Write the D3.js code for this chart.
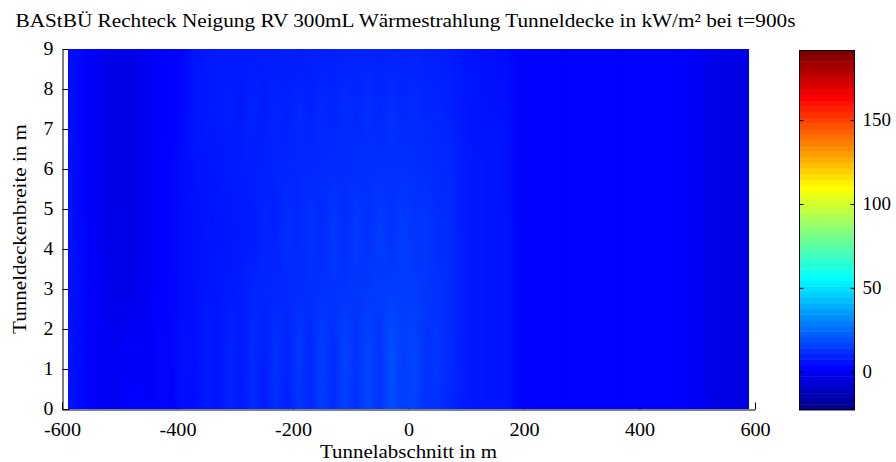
<!DOCTYPE html>
<html>
<head>
<meta charset="utf-8">
<script src="https://cdn.jsdelivr.net/npm/d3@7"></script>
<style>
  body { margin: 0; background: #fff; }
  svg { display: block; }
  text { font-family: "Liberation Serif", "Times New Roman", serif; fill: #000; }
</style>
</head>
<body>
<svg id="chart" width="896" height="462"></svg>
<script>
// ---- labels and ticks ----
const titleText = "BAStBÜ Rechteck Neigung RV 300mL Wärmestrahlung Tunneldecke in kW/m² bei t=900s";
const xLabel = "Tunnelabschnitt in m";
const yLabel = "Tunneldeckenbreite in m";
const xTicks = [-600, -400, -200, 0, 200, 400, 600];
const yTicks = [0, 1, 2, 3, 4, 5, 6, 7, 8, 9];
const barTicks = [0, 50, 100, 150];
const colorLimits = [-22.8, 191.8];

// ---- measurement grid: tunnel section (m) and ceiling width (m) ----
const gridX = [-590, -570, -550, -530, -510, -490, -470, -450, -430, -410,
               -390, -370, -350, -330, -310, -290, -270, -250, -230, -210,
               -190, -170, -150, -130, -110, -90, -70, -50, -30, -10,
               10, 30, 50, 70, 90, 110, 130, 150, 170, 190,
               210, 230, 250, 270, 290, 310, 330, 350, 370, 390,
               410, 430, 450, 470, 490, 510, 530, 550, 570, 590];
const gridY = [0, 1.5, 3, 4.5, 6, 7.5, 9];

// radiation in kW/m² along each ceiling line (one array per width position)
const radY0 = [6, 4, 2.5, 0.5, 0, 1.5, 3, 1.5, 3.5, 2.5,
               5.5, 4.5, 8, 6, 9.5, 7, 11, 8, 12, 9,
               13, 10, 15, 11, 16, 12, 17, 13, 18.5, 15,
               16.5, 12, 13, 10.5, 8.5, 7, 7, 6.5, 6.5, 2.8,
               2.5, 2.6, 2.5, 2.4, 2.5, 2.6, 2.5, 2.5, 2.4, 2.5,
               2.5, 2.6, 2.5, 2.2, 1.2, -0.5, -2, -2.5, -3, -3];
const radY15 = [6.5, 4.5, 2.5, 0.5, -0.5, 1, 2, 1, 3.5, 3,
                5.5, 5, 8, 6, 9.5, 7.5, 11.5, 8.5, 12.5, 9.5,
                14, 10.5, 15.5, 11.5, 16.5, 12.5, 17, 13, 19, 15,
                17, 12.5, 13.5, 11, 9, 7, 7, 6.5, 6.5, 2.8,
                2.5, 2.6, 2.5, 2.4, 2.5, 2.6, 2.5, 2.5, 2.4, 2.5,
                2.5, 2.6, 2.5, 2.2, 1.2, -0.5, -2, -2.5, -3, -3];
const radY3 = [6, 4.5, 2, 0, -1.5, -2, -1.5, 0.5, 2.5, 3,
               4.5, 5.5, 6.5, 7, 7.5, 8, 9.5, 10, 10.5, 11,
               11.5, 12, 12.5, 13, 13, 13.5, 14, 14.5, 15, 15,
               14.5, 13.5, 12.5, 11.5, 9, 7, 7, 6.5, 6.5, 2.8,
               2.5, 2.6, 2.5, 2.4, 2.5, 2.6, 2.5, 2.5, 2.4, 2.5,
               2.5, 2.6, 2.5, 2.2, 1.2, -0.5, -2, -2.5, -3, -2.8];
const radY45 = [5.5, 4, 1.5, -1, -2, -2.5, -2, 0, 2, 3,
                4.5, 5.5, 6, 6.5, 7, 7.5, 7.5, 10, 9, 12,
                10, 13, 11, 14, 11.5, 14.5, 12, 15, 12.5, 15,
                13, 14, 11.5, 11.5, 8.5, 7, 7, 6.5, 6.5, 2.8,
                2.5, 2.6, 2.5, 2.4, 2.5, 2.6, 2.5, 2.5, 2.4, 2.5,
                2.5, 2.6, 2.5, 2.2, 1.2, -0.5, -2, -2.5, -3, -2.8];
const radY6 = [5.5, 4, 1, -1.5, -2.5, -3, -2.5, -0.5, 2, 3,
               4.5, 6, 6.5, 7, 7.5, 8, 8.5, 9, 9.5, 10,
               10.5, 11, 11, 11.5, 11.5, 12, 12, 12.5, 12.5, 12.5,
               12, 11.5, 11, 10.5, 8.5, 7, 7, 6.5, 6, 2.8,
               2.5, 2.6, 2.5, 2.4, 2.5, 2.6, 2.5, 2.5, 2.4, 2.5,
               2.5, 2.6, 2.5, 2.2, 1.2, -0.5, -2, -2.8, -3, -2.8];
const radY75 = [5, 4, 1, -1.5, -2.5, -3, -2.5, -0.5, 2, 2.5,
                4, 6.5, 7.5, 7.5, 8.5, 7.5, 9.5, 8, 10, 8.5,
                10.5, 9, 11, 9.5, 11.5, 10, 12, 10, 12, 10.5,
                11.5, 10, 10, 9, 7.5, 6.5, 6, 6, 5.5, 2.8,
                2.5, 2.6, 2.5, 2.4, 2.5, 2.6, 2.5, 2.5, 2.4, 2.5,
                2.5, 2.6, 2.5, 2.2, 1.2, -0.5, -2, -2.8, -3, -2.8];
const radY9 = [5, 4, 1, -1.5, -2.5, -3, -2.5, -0.5, 2, 2.5,
               3.5, 6.5, 7, 7.5, 7.5, 8, 7.5, 8, 8, 8.5,
               8, 8.5, 8.5, 9, 9, 9.5, 9.5, 9, 9.5, 9,
               9.5, 9, 8.5, 8, 7, 6, 5.5, 5, 4.5, 2.8,
               2.5, 2.6, 2.5, 2.4, 2.5, 2.6, 2.5, 2.5, 2.4, 2.5,
               2.5, 2.6, 2.5, 2.2, 1.2, -0.5, -2, -2.8, -3, -2.8];

const radRows = [radY0, radY15, radY3, radY45, radY6, radY75, radY9];

// ---- jet colormap with 64 entries ----
function jet64() {
  const m = 64, n = 16;
  const u = [];
  for (let i = 1; i <= n; i++) u.push(i / n);
  for (let i = 0; i < n - 1; i++) u.push(1);
  for (let i = n; i >= 1; i--) u.push(i / n);
  const r = new Array(m).fill(0), g = new Array(m).fill(0), b = new Array(m).fill(0);
  for (let k = 0; k < u.length; k++) {
    const gi = n / 2 + k + 1;      // 1-based row index
    const ri = gi + n, bi = gi - n;
    if (gi >= 1 && gi <= m) g[gi - 1] = u[k];
    if (ri >= 1 && ri <= m) r[ri - 1] = u[k];
    if (bi >= 1 && bi <= m) b[bi - 1] = u[k];
  }
  return d3.range(m).map(i => d3.rgb(Math.round(r[i] * 255), Math.round(g[i] * 255), Math.round(b[i] * 255)));
}
const jetColors = jet64();
const binWidth = (colorLimits[1] - colorLimits[0]) / jetColors.length;
// smooth colouring for the field (interpolated between colormap entries)
const fieldColor = d3.scaleLinear()
  .domain(jetColors.map((c, i) => colorLimits[0] + (i + 0.5) * binWidth))
  .range(jetColors.map(c => c.formatHex()))
  .clamp(true);

// ---- layout ----
const svg = d3.select("#chart");
const x = d3.scaleLinear().domain([-600, 600]).range([62, 755]);
const y = d3.scaleLinear().domain([0, 9]).range([409, 49]);

function widen(sel, k) {
  sel.each(function () {
    const len = this.getComputedTextLength();
    d3.select(this).attr("textLength", len * k).attr("lengthAdjust", "spacingAndGlyphs");
  });
}

// axes go underneath the field image
const gx = svg.append("g")
  .attr("transform", "translate(0,409.5)")
  .call(d3.axisBottom(x).tickValues(xTicks).tickSizeInner(-7).tickSizeOuter(0).tickPadding(14));
const gy = svg.append("g")
  .attr("transform", "translate(62.5,0)")
  .call(d3.axisLeft(y).tickValues(yTicks).tickSizeInner(-7).tickSizeOuter(0).tickPadding(9));
[gx, gy].forEach(g => {
  g.selectAll("path,line").attr("stroke", "#000").attr("stroke-width", 1);
  g.selectAll("text").attr("font-size", 18).attr("font-family", "Liberation Serif");
});
gx.selectAll("text").text(d => d < 0 ? "-" + Math.abs(d) : d);
widen(gx.selectAll("text"), 1.12);
widen(gy.selectAll("text"), 1.1);

// ---- interpolated field rendered pixel by pixel ----
function sampleAt(xv, yv) {
  let i = d3.bisectRight(gridX, xv) - 1;
  i = Math.max(0, Math.min(gridX.length - 2, i));
  let j = d3.bisectRight(gridY, yv) - 1;
  j = Math.max(0, Math.min(gridY.length - 2, j));
  const tx = Math.max(0, Math.min(1, (xv - gridX[i]) / (gridX[i + 1] - gridX[i])));
  const ty = Math.max(0, Math.min(1, (yv - gridY[j]) / (gridY[j + 1] - gridY[j])));
  const a = radRows[j][i], b = radRows[j][i + 1];
  const c = radRows[j + 1][i], d = radRows[j + 1][i + 1];
  return (a * (1 - tx) + b * tx) * (1 - ty) + (c * (1 - tx) + d * tx) * ty;
}

const px0 = Math.round(x(gridX[0])), px1 = Math.round(x(gridX[gridX.length - 1]));
const py0 = Math.round(y(gridY[gridY.length - 1])), py1 = Math.round(y(gridY[0]));
const w = px1 - px0, h = py1 - py0;
const canvas = document.createElement("canvas");
canvas.width = w; canvas.height = h;
const ctx = canvas.getContext("2d");
const img = ctx.createImageData(w, h);
for (let r = 0; r < h; r++) {
  const yv = y.invert(py0 + r + 0.5);
  for (let cIdx = 0; cIdx < w; cIdx++) {
    const xv = x.invert(px0 + cIdx + 0.5);
    const col = d3.rgb(fieldColor(sampleAt(xv, yv)));
    const o = (r * w + cIdx) * 4;
    img.data[o] = col.r; img.data[o + 1] = col.g; img.data[o + 2] = col.b; img.data[o + 3] = 255;
  }
}
ctx.putImageData(img, 0, 0);
svg.append("image")
  .attr("x", px0).attr("y", py0).attr("width", w).attr("height", h)
  .attr("preserveAspectRatio", "none")
  .attr("href", canvas.toDataURL());

// ---- titles ----
svg.append("text")
  .attr("x", 405.5).attr("y", 27)
  .attr("text-anchor", "middle")
  .attr("font-size", 19)
  .attr("textLength", 780).attr("lengthAdjust", "spacingAndGlyphs")
  .text(titleText);
svg.append("text")
  .attr("x", 408.5).attr("y", 458)
  .attr("text-anchor", "middle")
  .attr("font-size", 19)
  .attr("textLength", 177).attr("lengthAdjust", "spacingAndGlyphs")
  .text(xLabel);
svg.append("text")
  .attr("transform", "translate(26,229) rotate(-90)")
  .attr("text-anchor", "middle")
  .attr("font-size", 19)
  .attr("textLength", 210).attr("lengthAdjust", "spacingAndGlyphs")
  .text(yLabel);

// ---- colorbar (64 discrete bands) ----
const cb = { x0: 799, x1: 855, y0: 50, y1: 410 };
const cy = d3.scaleLinear().domain(colorLimits).range([cb.y1, cb.y0]);
svg.append("g").selectAll("rect")
  .data(jetColors)
  .join("rect")
  .attr("x", cb.x0)
  .attr("width", cb.x1 - cb.x0)
  .attr("y", (d, i) => cy(colorLimits[0] + (i + 1) * binWidth))
  .attr("height", (d, i) => cy(colorLimits[0] + i * binWidth) - cy(colorLimits[0] + (i + 1) * binWidth) + 0.5)
  .attr("fill", d => d);
svg.append("rect")
  .attr("x", cb.x0 + 0.5).attr("y", cb.y0 + 0.5)
  .attr("width", cb.x1 - cb.x0 - 1).attr("height", cb.y1 - cb.y0 - 1)
  .attr("fill", "none").attr("stroke", "#000");
const gcr = svg.append("g")
  .attr("transform", `translate(${cb.x1 - 0.5},0)`)
  .call(d3.axisRight(cy).tickValues(barTicks).tickSizeInner(-4).tickSizeOuter(0).tickPadding(8));
const gcl = svg.append("g")
  .attr("transform", `translate(${cb.x0 + 0.5},0)`)
  .call(d3.axisLeft(cy).tickValues(barTicks).tickSizeInner(-4).tickSizeOuter(0).tickFormat(""));
[gcr, gcl].forEach(g => {
  g.select(".domain").remove();
  g.selectAll("line").attr("stroke", "#000");
  g.selectAll("text").attr("font-size", 18).attr("font-family", "Liberation Serif");
});
widen(gcr.selectAll("text"), 1.05);
</script>
</body>
</html>
